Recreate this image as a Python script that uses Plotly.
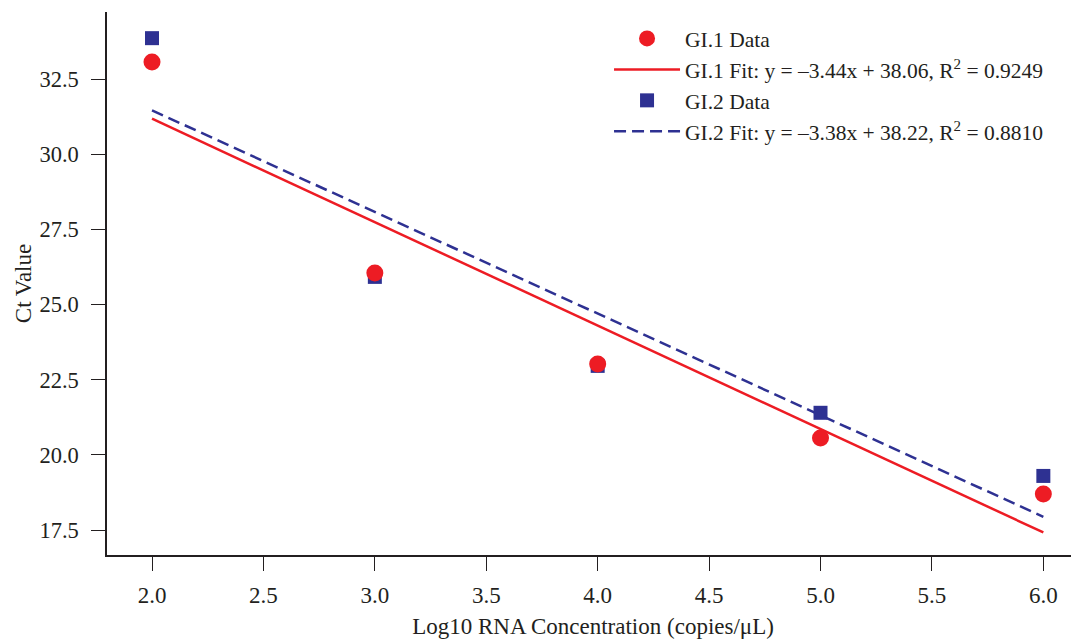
import plotly.graph_objects as go
import numpy as np

log_conc = [2.0, 3.0, 4.0, 5.0, 6.0]
gi1_ct = [33.07, 26.05, 23.02, 20.56, 18.70]
gi2_ct = [33.86, 25.92, 22.96, 21.40, 19.30]
gi1_slope, gi1_intercept, gi1_r2 = -3.44, 38.06, 0.9249
gi2_slope, gi2_intercept, gi2_r2 = -3.38, 38.22, 0.8810
x_ticks = [2.0, 2.5, 3.0, 3.5, 4.0, 4.5, 5.0, 5.5, 6.0]
y_ticks = [17.5, 20.0, 22.5, 25.0, 27.5, 30.0, 32.5]

RED = "#ED1C24"
BLUE = "#2E3192"
INK = "#231F20"
FONT = "Liberation Serif"

xfit = np.array([min(log_conc), max(log_conc)])

fig = go.Figure()
fig.add_trace(go.Scatter(x=xfit, y=gi1_slope * xfit + gi1_intercept, mode="lines",
                         name=f"GI.1 Fit: y = \u2013{abs(gi1_slope):.2f}x + {gi1_intercept:.2f}, R<sup>2</sup> = {gi1_r2:.4f}",
                         line=dict(color=RED, width=2.5), legendrank=2))
fig.add_trace(go.Scatter(x=xfit, y=gi2_slope * xfit + gi2_intercept, mode="lines",
                         name=f"GI.2 Fit: y = \u2013{abs(gi2_slope):.2f}x + {gi2_intercept:.2f}, R<sup>2</sup> = {gi2_r2:.4f}",
                         line=dict(color=BLUE, width=2.5, dash="12px,6px"), legendrank=4))
fig.add_trace(go.Scatter(x=log_conc, y=gi2_ct, mode="markers", name="GI.2 Data",
                         marker=dict(symbol="square", size=14, color=BLUE),
                         legendrank=3))
fig.add_trace(go.Scatter(x=log_conc, y=gi1_ct, mode="markers", name="GI.1 Data",
                         marker=dict(symbol="circle", size=17, color=RED),
                         legendrank=1))

fig.update_layout(
    width=1071, height=632,
    margin=dict(l=99, r=0, t=4, b=85),
    paper_bgcolor="white", plot_bgcolor="white",
    font=dict(family=FONT, size=21, color=INK),
    showlegend=True,
    legend=dict(x=0.5165, y=0.989, xanchor="left", yanchor="top",
                bgcolor="rgba(0,0,0,0)", borderwidth=0,
                font=dict(family=FONT, size=21.5, color=INK),
                traceorder="normal", itemwidth=66),
)

fig.update_xaxes(range=[1.798, 6.16], tickvals=x_ticks,
                 ticktext=[f"{v:.1f}" for v in x_ticks],
                 showline=True, linecolor=INK, linewidth=1.5,
                 ticks="outside", ticklen=14, tickwidth=1.2, tickcolor=INK,
                 showgrid=False, zeroline=False, ticklabelstandoff=5,
                 tickfont=dict(family=FONT, size=23, color=INK),
                 title=dict(text="Log10 RNA Concentration (copies/\u03bcL)",
                            font=dict(family=FONT, size=23, color=INK), standoff=11))
fig.update_yaxes(range=[16.67, 34.73], tickvals=y_ticks,
                 ticktext=[f"{v:.1f}" for v in y_ticks],
                 showline=True, linecolor=INK, linewidth=1.5,
                 ticks="outside", ticklen=14, tickwidth=1.2, tickcolor=INK,
                 showgrid=False, zeroline=False, ticklabelstandoff=8,
                 tickfont=dict(family=FONT, size=22.5, color=INK),
                 title=dict(text="Ct Value", font=dict(family=FONT, size=23, color=INK), standoff=1))

fig.write_html("out.html")
